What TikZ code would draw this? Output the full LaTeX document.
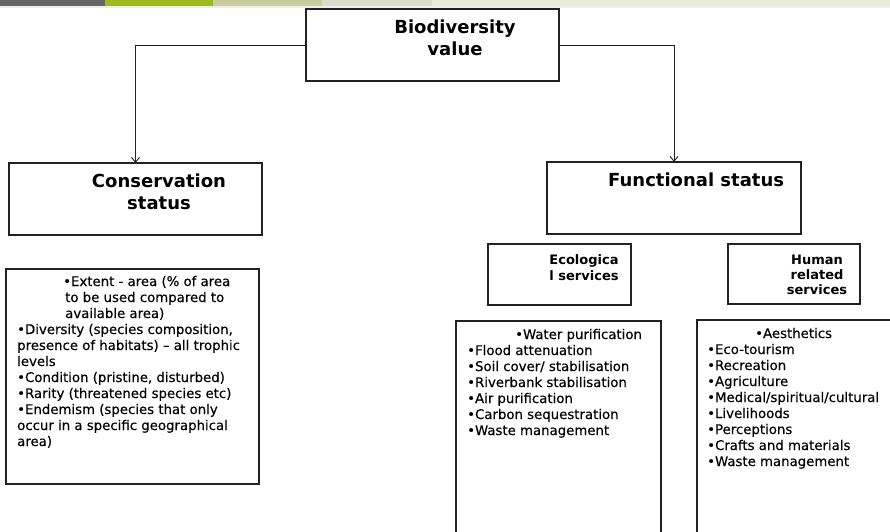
\documentclass[tikz,border=0pt]{standalone}
\usepackage{fontspec}
\setmainfont{DejaVu Sans}
\newfontfamily\medfont[FakeBold=0.35]{DejaVu Sans}
\usetikzlibrary{arrows.meta}
\definecolor{barA}{HTML}{666666}
\definecolor{barB}{HTML}{9DBB1F}
\definecolor{barC}{HTML}{C9CD9B}
\definecolor{barD}{HTML}{D9DBCD}
\definecolor{barE}{HTML}{E9EBDD}
\definecolor{barS}{HTML}{EEEEEE}
\definecolor{boxline}{HTML}{222222}
\newcommand\ctrline[1]{\hbox to 0pt{\hss #1\hss}}
\begin{document}
\begin{tikzpicture}[x=1pt,y=-1pt,
  box/.style={draw=boxline, line width=1.2pt, rectangle, inner sep=0pt, outer sep=0pt},
  conn/.style={draw=boxline, line width=0.9pt, -{Straight Barb[length=5pt,width=8pt]}},
  lst/.style={anchor=base west, inner sep=0pt, font=\medfont\fontsize{13.3}{16}\selectfont},
  hdr/.style={anchor=base, inner sep=0pt, font=\bfseries\fontsize{18}{22}\selectfont},
  sub/.style={anchor=base, inner sep=0pt, font=\bfseries\fontsize{13}{16}\selectfont}]
\useasboundingbox (0,0) rectangle (890,531);
\clip (0,0) rectangle (890,531);
\fill[white] (0,0) rectangle (890,531);
% top bar
\fill[barS] (0,6) rectangle (890,7.5);
\fill[barA] (0,0) rectangle (105,6);
\fill[barB] (105,0) rectangle (213.3,6);
\fill[barC] (213.3,0) rectangle (322.3,6);
\fill[barD] (322.3,0) rectangle (432.3,6);
\fill[barE] (432.3,0) rectangle (890,6);
% boxes
\node[box, minimum width=253pt, minimum height=72pt] (bio) at (432.5,45) {};
\node[box, minimum width=253pt, minimum height=72pt] (cons) at (135.5,199) {};
\node[box, minimum width=254pt, minimum height=72pt] (func) at (674,198) {};
\node[box, minimum width=143pt, minimum height=61pt] (eco) at (559.5,274.5) {};
\node[box, minimum width=132pt, minimum height=60pt] (hum) at (794,274) {};
\node[box, minimum width=253pt, minimum height=215pt] (clist) at (132.5,376.5) {};
\node[box, minimum width=205pt, minimum height=239pt] (elist) at (558.5,440.5) {};
\node[box, minimum width=230pt, minimum height=240pt] (hlist) at (812,440) {};
% connectors
\draw[conn] (bio.west) -| (cons.north);
\draw[conn] (bio.east) -| (func.north);
% header texts
\node[hdr] (biot) at (455,33) {\vtop{\baselineskip=22pt\ctrline{Biodiversity}\ctrline{value}}};
\node[hdr] (const) at (159,187) {\vtop{\baselineskip=22pt\ctrline{Conservation}\ctrline{status}}};
\node[hdr, anchor=base west] (funct) at (608,186) {Functional status};
\node[sub] (ecot) at (584,264) {\vtop{\baselineskip=16pt\ctrline{Ecologica}\ctrline{l services}}};
\node[sub] (humt) at (817,264) {\vtop{\baselineskip=15pt\ctrline{Human}\ctrline{related}\ctrline{services}}};
% lists
\node[lst] (ctext) at (17,286) {\vtop{\baselineskip=16pt
\hbox{\hspace*{46pt}•Extent - area (\% of area}
\hbox{\hspace*{48pt}to be used compared to}
\hbox{\hspace*{48pt}available area)}
\hbox{•Diversity (species composition,}
\hbox{presence of habitats) – all trophic}
\hbox{levels}
\hbox{•Condition (pristine, disturbed)}
\hbox{•Rarity (threatened species etc)}
\hbox{•Endemism (species that only}
\hbox{occur in a specific geographical}
\hbox{area)}}};
\node[lst] (etext) at (467,339) {\vtop{\baselineskip=16pt
\hbox{\hspace*{48pt}•Water purification}
\hbox{•Flood attenuation}
\hbox{•Soil cover/ stabilisation}
\hbox{•Riverbank stabilisation}
\hbox{•Air purification}
\hbox{•Carbon sequestration}
\hbox{•Waste management}}};
\node[lst] (htext) at (707,338) {\vtop{\baselineskip=16pt
\hbox{\hspace*{48pt}•Aesthetics}
\hbox{•Eco-tourism}
\hbox{•Recreation}
\hbox{•Agriculture}
\hbox{•Medical/spiritual/cultural}
\hbox{•Livelihoods}
\hbox{•Perceptions}
\hbox{•Crafts and materials}
\hbox{•Waste management}}};
\end{tikzpicture}
\end{document}
